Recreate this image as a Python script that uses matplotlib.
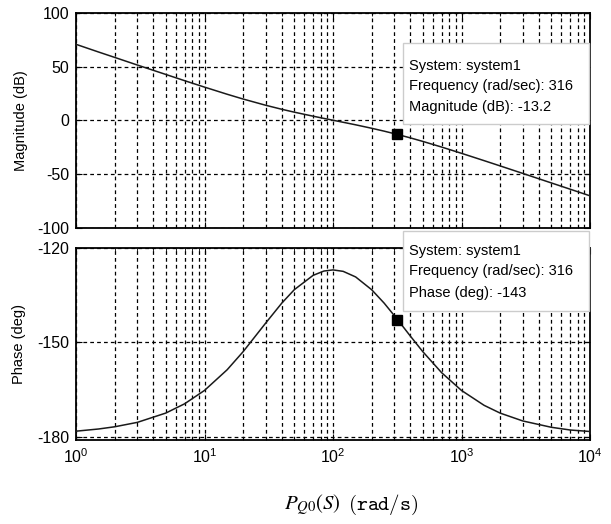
import numpy as np
import matplotlib
matplotlib.use("Agg")
import matplotlib.pyplot as plt
from matplotlib.patches import Rectangle
from matplotlib.ticker import NullFormatter

plt.rcParams['font.family'] = ['Liberation Sans', 'DejaVu Sans']
plt.rcParams['mathtext.fontset'] = 'custom'
plt.rcParams['mathtext.rm'] = 'Liberation Sans'
plt.rcParams['mathtext.it'] = 'Liberation Sans:italic'
plt.rcParams['mathtext.bf'] = 'Liberation Sans:bold'
plt.rcParams['axes.unicode_minus'] = False

#data#
freq = [1, 1.5, 2, 3, 5, 7, 10, 15, 20, 30, 40, 50, 70, 85, 100, 120, 150, 200, 250,
        316, 400, 500, 700, 1000, 1500, 2000, 3000, 5000, 7000, 10000]
mag_db = [70.8, 63.6, 58.6, 51.5, 42.7, 36.9, 30.9, 24.25, 19.77, 13.95, 10.21,
          7.53, 3.79, 1.72, 0.02, -1.89, -4.25, -7.48, -10.16, -13.18, -16.44, -19.73,
          -24.98, -30.83, -37.67, -42.59, -49.58, -58.44, -64.27, -70.46]
phase_deg = [-178.2, -177.5, -176.8, -175.4, -172.44, -169.50, -165.25, -158.69,
             -152.92, -143.80, -137.48, -133.24, -128.69, -127.32, -126.96, -127.42,
             -129.19, -133.26, -137.51, -142.61, -147.99, -152.94, -159.60, -165.26,
             -169.99, -172.46, -174.95, -176.96, -177.82, -178.3]

tip_freq = 316
tip_mag = -13.2
tip_phase = -143

mag_ticks = [-100, -50, 0, 50, 100]
phase_ticks = [-180, -150, -120]
xtick_vals = [1, 10, 100, 1000, 10000]
xtick_labels = ['$10^{0}$', '$10^{1}$', '$10^{2}$', '$10^{3}$', '$10^{4}$']

W, H = 611, 524
fig = plt.figure(figsize=(W/100, H/100), dpi=100)
ax1 = fig.add_axes([76/W, 1-227.5/H, 514/W, 214.5/H])
ax2 = fig.add_axes([76/W, 1-440/H, 514/W, 192/H])

grid_ls = (0, (3, 2.5))
for ax in (ax1, ax2):
    ax.set_xscale('log')
    ax.set_xlim(1, 1e4)
    ax.grid(True, which='both', axis='x', color='k', linestyle=grid_ls, linewidth=0.9)
    ax.grid(True, which='major', axis='y', color='k', linestyle=grid_ls, linewidth=0.9)
    ax.tick_params(which='both', direction='in', top=True, right=True, labelsize=11.5, pad=5)
    ax.tick_params(which='major', length=4)
    ax.tick_params(which='minor', length=2)
    ax.xaxis.set_minor_formatter(NullFormatter())
    for s in ax.spines.values():
        s.set_linewidth(1.3)
    ax.set_xticks(xtick_vals)

ax1.plot(freq, mag_db, color='#1a1a1a', lw=1.1, zorder=3)
ax1.plot([tip_freq], [tip_mag], marker='s', color='k', markersize=7.5, zorder=4)
ax1.set_ylim(-100, 100)
ax1.set_yticks(mag_ticks)
ax1.set_xticklabels([])
ax1.set_ylabel('Magnitude (dB)', fontsize=10.5)
ax1.yaxis.set_label_coords(-0.093, 0.5)

ax2.plot(freq, phase_deg, color='#1a1a1a', lw=1.1, zorder=3)
ax2.plot([tip_freq], [tip_phase], marker='s', color='k', markersize=7.5, zorder=4)
ax2.set_ylim(-181, -120)
ax2.set_yticks(phase_ticks)
ax2.set_xticklabels(xtick_labels)
ax2.set_ylabel('Phase (deg)', fontsize=10.5)
ax2.yaxis.set_label_coords(-0.097, 0.5)

#data tips#
def datatip(x0, y0, y1, lines, ys):
    fig.add_artist(Rectangle((x0/W, 1-y1/H), (589-x0)/W, (y1-y0)/H, transform=fig.transFigure,
                             facecolor='white', edgecolor='#cccccc', lw=1, zorder=5))
    for t, y in zip(lines, ys):
        fig.text(409/W, 1-y/H, t, ha='left', va='center', fontsize=10.5, zorder=6)

datatip(403, 43, 124, ['System: system1', 'Frequency (rad/sec): %d' % tip_freq,
                       'Magnitude (dB): %.1f' % tip_mag], [66, 86, 107])
datatip(403, 231, 311, ['System: system1', 'Frequency (rad/sec): %d' % tip_freq,
                        'Phase (deg): %d' % tip_phase], [251, 271, 293])

fig.text(341/W, 1-505/H, r'$P_{Q0}(S)$', ha='right', va='center', fontsize=15, math_fontfamily='stix')
fig.text(348/W, 1-505/H, r'$\mathtt{(rad/s)}$', ha='left', va='center', fontsize=15, math_fontfamily='cm')

plt.savefig('out.png', dpi=100)
